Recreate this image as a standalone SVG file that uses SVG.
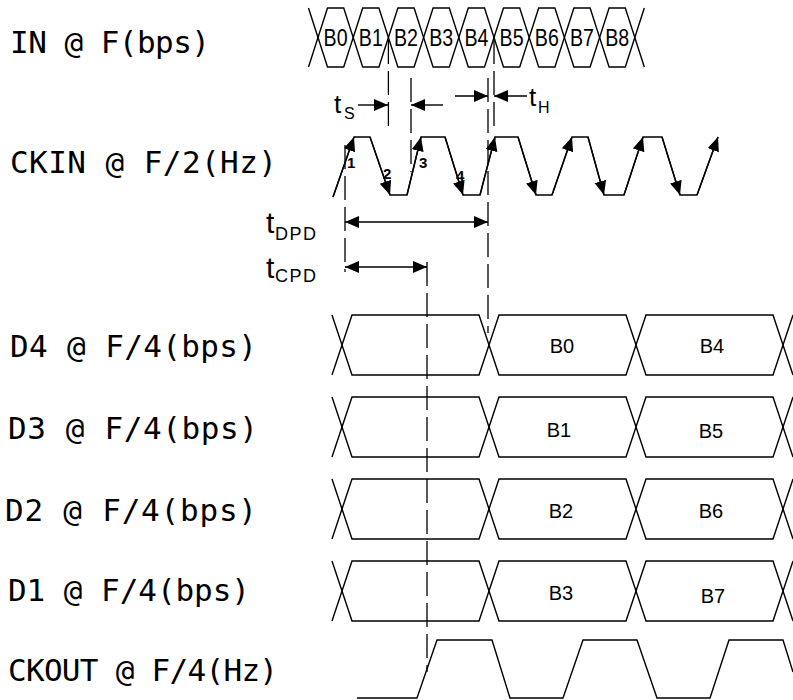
<svg xmlns="http://www.w3.org/2000/svg" xmlns:xlink="http://www.w3.org/1999/xlink" width="793" height="700" viewBox="0 0 793 700">
<style>
.w{fill:none;stroke:#000;stroke-width:1.4;stroke-linejoin:miter}
.dash{fill:none;stroke:#000;stroke-width:1.3;stroke-dasharray:24 7}
.dim{fill:none;stroke:#000;stroke-width:1.4}
.lbl{font-family:"DejaVu Sans Mono","Liberation Mono",monospace;font-size:31px;fill:#000}
.bi{font-family:"Liberation Sans",Arial,sans-serif;font-size:24px;fill:#000;text-anchor:middle}
.bd{font-family:"Liberation Sans",Arial,sans-serif;font-size:20px;fill:#000;text-anchor:middle}
.num{font-family:"Liberation Sans",Arial,sans-serif;font-size:15px;font-weight:bold;fill:#000}
.tt{font-family:"Liberation Sans",Arial,sans-serif;fill:#000}
</style>
<defs>
<marker id="ah" markerUnits="userSpaceOnUse" markerWidth="16" markerHeight="14" refX="14" refY="6" orient="auto-start-reverse">
<path d="M0,0 L14,6 L0,12 Z" fill="#000"/>
</marker>
<path id="inhex" class="w" d="M0,37.5 L9.5,8 L25.7,8 L35.2,37.5 L25.7,67 L9.5,67 Z"/>
<path id="dhex" class="w" d="M0,30 L10,0 L137,0 L147,30 L137,60 L10,60 Z"/>
</defs>
<rect width="793" height="700" fill="#fff"/>

<g id="in">
<text class="lbl" x="10" y="53" textLength="200">IN @ F(bps)</text>
<path class="w" d="M308.5,8 L318,37.5 L308.5,67 M644.3,8 L634.8,37.5 L644.3,67"/>
<use xlink:href="#inhex" x="318"/>
<use xlink:href="#inhex" x="353.2"/>
<use xlink:href="#inhex" x="388.4"/>
<use xlink:href="#inhex" x="423.6"/>
<use xlink:href="#inhex" x="458.8"/>
<use xlink:href="#inhex" x="494"/>
<use xlink:href="#inhex" x="529.2"/>
<use xlink:href="#inhex" x="564.4"/>
<use xlink:href="#inhex" x="599.6"/>
<text class="bi" x="335.6" y="46" textLength="24" lengthAdjust="spacingAndGlyphs">B0</text>
<text class="bi" x="370.8" y="46" textLength="24" lengthAdjust="spacingAndGlyphs">B1</text>
<text class="bi" x="406" y="46" textLength="24" lengthAdjust="spacingAndGlyphs">B2</text>
<text class="bi" x="441.2" y="46" textLength="24" lengthAdjust="spacingAndGlyphs">B3</text>
<text class="bi" x="476.4" y="46" textLength="24" lengthAdjust="spacingAndGlyphs">B4</text>
<text class="bi" x="511.6" y="46" textLength="24" lengthAdjust="spacingAndGlyphs">B5</text>
<text class="bi" x="546.8" y="46" textLength="24" lengthAdjust="spacingAndGlyphs">B6</text>
<text class="bi" x="582" y="46" textLength="24" lengthAdjust="spacingAndGlyphs">B7</text>
<text class="bi" x="617.2" y="46" textLength="24" lengthAdjust="spacingAndGlyphs">B8</text>
</g>

<g id="ckin">
<text class="lbl" x="10" y="173" textLength="267">CKIN @ F/2(Hz)</text>
<polyline class="w" points="333,197 354,137 370,137 390,195 407,195 421,137 445,137 463,195 480,195 495,137 518,137 536,195 552,195 572,137 588,137 604,195 624,195 643,137 662,137 680,195 697,195 718,137"/>
<g class="w" marker-end="url(#ah)">
<line x1="333" y1="197" x2="354" y2="137"/>
<line x1="370" y1="137" x2="390" y2="195"/>
<line x1="407" y1="195" x2="421" y2="137"/>
<line x1="445" y1="137" x2="463" y2="195"/>
<line x1="480" y1="195" x2="495" y2="137"/>
<line x1="518" y1="137" x2="536" y2="195"/>
<line x1="552" y1="195" x2="572" y2="137"/>
<line x1="588" y1="137" x2="604" y2="195"/>
<line x1="624" y1="195" x2="643" y2="137"/>
<line x1="662" y1="137" x2="680" y2="195"/>
<line x1="697" y1="195" x2="718" y2="137"/>
</g>
<text class="num" x="347" y="168">1</text>
<text class="num" x="383" y="179">2</text>
<text class="num" x="419" y="168">3</text>
<text class="num" x="456" y="181">4</text>
</g>

<g id="d4">
<text class="lbl" x="10" y="357" textLength="247">D4 @ F/4(bps)</text>
<path class="w" d="M332,315 L342,345 L332,375 M793,315 L783,345 L793,375"/>
<use xlink:href="#dhex" x="342" y="315"/>
<use xlink:href="#dhex" x="489" y="315"/>
<use xlink:href="#dhex" x="636" y="315"/>
<text class="bd" x="562" y="353">B0</text>
<text class="bd" x="712" y="353">B4</text>
</g>

<g id="d3">
<text class="lbl" x="8" y="439" textLength="250">D3 @ F/4(bps)</text>
<path class="w" d="M332,397 L342,427 L332,457 M793,397 L783,427 L793,457"/>
<use xlink:href="#dhex" x="342" y="397"/>
<use xlink:href="#dhex" x="489" y="397"/>
<use xlink:href="#dhex" x="636" y="397"/>
<text class="bd" x="559" y="437">B1</text>
<text class="bd" x="711" y="438">B5</text>
</g>

<g id="d2">
<text class="lbl" x="5" y="521" textLength="252">D2 @ F/4(bps)</text>
<path class="w" d="M332,479 L342,509 L332,539 M793,479 L783,509 L793,539"/>
<use xlink:href="#dhex" x="342" y="479"/>
<use xlink:href="#dhex" x="489" y="479"/>
<use xlink:href="#dhex" x="636" y="479"/>
<text class="bd" x="561" y="518">B2</text>
<text class="bd" x="711" y="518">B6</text>
</g>

<g id="d1">
<text class="lbl" x="8" y="601" textLength="242">D1 @ F/4(bps)</text>
<path class="w" d="M332,561 L342,591 L332,621 M793,561 L783,591 L793,621"/>
<use xlink:href="#dhex" x="342" y="561"/>
<use xlink:href="#dhex" x="489" y="561"/>
<use xlink:href="#dhex" x="636" y="561"/>
<text class="bd" x="561" y="600">B3</text>
<text class="bd" x="713" y="603">B7</text>
</g>

<g id="ckout">
<text class="lbl" x="8" y="681" textLength="270">CKOUT @ F/4(Hz)</text>
<polyline class="w" points="357,698 417,698 437,640 492,640 510,698 563,698 583,640 637,640 657,698 710,698 729,640 783,640 793,672"/>
</g>

<g id="timing-labels">
<text class="tt" x="334" y="113" font-size="26">t</text>
<text class="tt" x="344" y="119" font-size="16">S</text>
<text class="tt" x="529" y="106" font-size="26">t</text>
<text class="tt" x="538" y="113" font-size="16">H</text>
<text class="tt" x="266" y="233" font-size="30">t</text>
<text class="tt" x="275" y="240" font-size="18" textLength="41">DPD</text>
<text class="tt" x="266" y="278" font-size="30">t</text>
<text class="tt" x="275" y="282" font-size="18" textLength="41">CPD</text>
</g>

<g id="connectors">
<line class="dash" x1="388.4" y1="40" x2="388.4" y2="130"/>
<line class="dash" x1="411" y1="78" x2="411" y2="172"/>
<line class="dash" x1="488" y1="78" x2="488" y2="333"/>
<line class="dash" x1="494" y1="40" x2="494" y2="133"/>
<line class="dash" x1="345" y1="145" x2="345" y2="272"/>
<line class="dash" x1="427" y1="262" x2="427" y2="672"/>
<line class="dim" x1="358" y1="105" x2="388" y2="105" marker-end="url(#ah)"/>
<line class="dim" x1="443" y1="105" x2="411" y2="105" marker-end="url(#ah)"/>
<line class="dim" x1="455" y1="96" x2="488" y2="96" marker-end="url(#ah)"/>
<line class="dim" x1="527" y1="96" x2="494" y2="96" marker-end="url(#ah)"/>
<line class="dim" x1="345" y1="222" x2="488" y2="222" marker-start="url(#ah)" marker-end="url(#ah)"/>
<line class="dim" x1="345" y1="267" x2="427" y2="267" marker-start="url(#ah)" marker-end="url(#ah)"/>
</g>
</svg>
